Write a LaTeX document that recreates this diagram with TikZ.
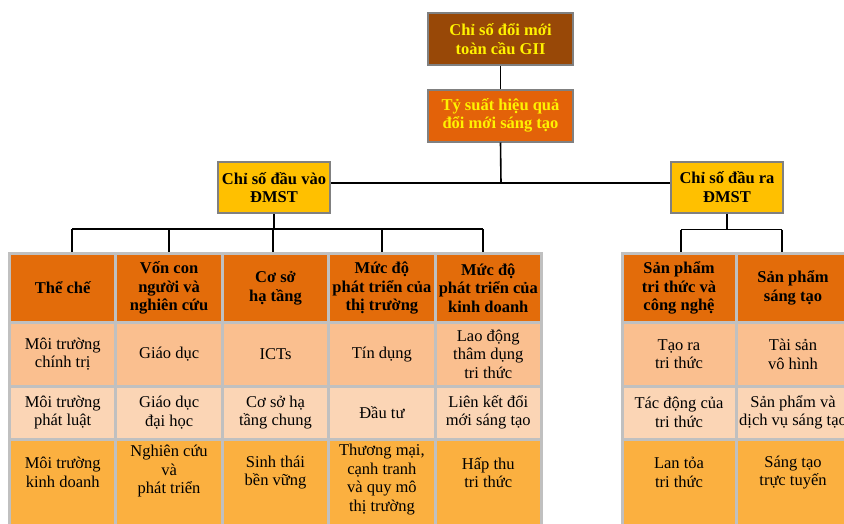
\documentclass[tikz,border=0pt]{standalone}
\usepackage{fontspec}
\setmainfont{Liberation Serif}
\usetikzlibrary{positioning,calc}
\definecolor{giibrown}{HTML}{984807}
\definecolor{effred}{HTML}{E36209}
\definecolor{pillaryellow}{HTML}{FFC000}
\definecolor{headorange}{HTML}{E36C0A}
\definecolor{rowpeach}{HTML}{FABF8F}
\definecolor{rowcream}{HTML}{FBD5B5}
\definecolor{rowamber}{HTML}{FBB040}
\definecolor{gridgray}{HTML}{C0C0C0}
\definecolor{framegray}{HTML}{808080}
\newcommand{\cellfont}{\fontsize{16.5pt}{18.5pt}\selectfont}
\tikzset{
  topbox/.style   ={rectangle, draw=framegray, line width=2pt, fill=giibrown,
                    minimum width=145pt, minimum height=52pt, inner sep=0pt,
                    align=center, text=yellow, font=\bfseries\cellfont},
  effbox/.style   ={topbox, fill=effred},
  pillar/.style   ={topbox, fill=pillaryellow, text=black,
                    minimum width=112pt, minimum height=51pt},
  cell/.style     ={rectangle, draw=gridgray, line width=3pt, inner xsep=0pt,
                    inner ysep=1pt, minimum width=106.4pt, align=center,
                    font=\cellfont, text=black},
  cellhead/.style ={cell, fill=headorange, minimum height=69pt,
                    font=\bfseries\cellfont},
  cellA/.style    ={cell, fill=rowpeach, minimum height=63.5pt},
  cellB/.style    ={cell, fill=rowcream, minimum height=53pt},
  cellC/.style    ={cell, fill=rowamber, minimum height=106pt},
  outcol/.style   ={minimum width=114pt},
  celltxt/.style  ={align=center, font=\cellfont, inner sep=0pt},
  conn/.style     ={line width=1.6pt, draw=black}
}

\begin{document}
\begin{tikzpicture}[x=1pt, y=-1pt]
  \clip (0,0) rectangle (844,523);

  % ---------------- Top ----------------
  \node[topbox] (gii) at (500.5,39)    {Chỉ số đổi mới\\toàn cầu GII};
  \node[effbox] (eff) at (500.5,115.5) {Tỷ suất hiệu quả\\đổi mới sáng tạo};
  \node[pillar] (in)  at (274,187.5)   {Chỉ số đầu vào\\ĐMST};
  \node[pillar] (out) at (727,187)     {Chỉ số đầu ra\\ĐMST};

  % ---------------- Input pillars ----------------
  \node[cellhead] (h1) at (62.7,288)  {Thể chế};
  \node[cellhead] (h2) at (169.1,288) {Vốn con\\người và\\nghiên cứu};
  \node[cellhead] (h3) at (275.5,288) {Cơ sở\\hạ tầng};
  \node[cellhead] (h4) at (381.9,288) {Mức độ\\phát triển của\\thị trường};
  \node[cellhead] (h5) at (488.3,288) {Mức độ\\phát triển của\\kinh doanh};

  \node[cellA] (a1) at (62.7,354.25)  {Môi trường\\chính trị};
  \node[cellA] (a2) at (169.1,354.25) {Giáo dục};
  \node[cellA] (a3) at (275.5,354.25) {ICTs};
  \node[cellA] (a4) at (381.9,354.25) {Tín dụng};
  \node[cellA] (a5) at (488.3,354.25) {Lao động\\thâm dụng\\tri thức};

  \node[cellB] (b1) at (62.7,412.5)  {Môi trường\\phát luật};
  \node[cellB] (b2) at (169.1,412.5) {Giáo dục\\đại học};
  \node[cellB] (b3) at (275.5,412.5) {Cơ sở hạ\\tầng chung};
  \node[cellB] (b4) at (381.9,412.5) {Đầu tư};
  \node[cellB] (b5) at (488.3,412.5) {Liên kết đổi\\mới sáng tạo};

  \node[cellC] (c1) at (62.7,492)  {};
  \node[cellC] (c2) at (169.1,492) {};
  \node[cellC] (c3) at (275.5,492) {};
  \node[cellC] (c4) at (381.9,492) {};
  \node[cellC] (c5) at (488.3,492) {};
  \node[celltxt] (t1) at ([yshift=-35pt]c1.north) {Môi trường\\kinh doanh};
  \node[celltxt] (t2) at ([yshift=-34pt]c2.north) {Nghiên cứu\\và\\phát triển};
  \node[celltxt] (t3) at ([yshift=-35pt]c3.north) {Sinh thái\\bền vững};
  \node[celltxt] (t4) at ([yshift=-42pt]c4.north) {Thương mại,\\cạnh tranh\\và quy mô\\thị trường};
  \node[celltxt] (t5) at ([yshift=-35pt]c5.north) {Hấp thu\\tri thức};

  % ---------------- Output pillars ----------------
  \node[cellhead, outcol] (r1) at (679,288) {Sản phẩm\\tri thức và\\công nghệ};
  \node[cellhead, outcol] (r2) at (793,288) {Sản phẩm\\sáng tạo};
  \node[cellA, outcol] (ra1) at (679,354.25) {Tạo ra\\tri thức};
  \node[cellA, outcol] (ra2) at (793,354.25) {Tài sản\\vô hình};
  \node[cellB, outcol] (rb1) at (679,412.5) {Tác động của\\tri thức};
  \node[cellB, outcol] (rb2) at (793,412.5) {Sản phẩm và\\dịch vụ sáng tạo};
  \node[cellC, outcol] (rc1) at (679,492) {};
  \node[cellC, outcol] (rc2) at (793,492) {};
  \node[celltxt] (rt1) at ([yshift=-35pt]rc1.north) {Lan tỏa\\tri thức};
  \node[celltxt] (rt2) at ([yshift=-35pt]rc2.north) {Sáng tạo\\trực tuyến};

  % ---------------- Top edges ----------------
  \coordinate (split) at (501,183);
  \draw[conn] (gii.south) -- (eff.north);
  \draw[conn] (eff.south) -- (split);
  \draw[conn] (in.east |- split) -- (out.west |- split);

  % ---------------- Input edges ----------------
  \coordinate (inbus) at ($(in.south)+(0,15)$);
  \coordinate (d1) at ([xshift=9.3pt]h1.north);
  \coordinate (d3) at ([xshift=-2.5pt]h3.north);
  \coordinate (d5) at ([xshift=-5.3pt]h5.north);
  \draw[conn] (in.south) -- (inbus);
  \draw[conn] (d1 |- inbus) -- (d5 |- inbus);
  \draw[conn] (d1 |- inbus) -- (d1);
  \draw[conn] (h2.north |- inbus) -- (h2.north);
  \draw[conn] (d3 |- inbus) -- (d3);
  \draw[conn] (h4.north |- inbus) -- (h4.north);
  \draw[conn] (d5 |- inbus) -- (d5);

  % ---------------- Output edges ----------------
  \coordinate (outbus) at ($(out.south)+(0,16)$);
  \coordinate (d6) at ([xshift=2pt]r1.north);
  \coordinate (d7) at ([xshift=-11pt]r2.north);
  \draw[conn] (out.south) -- (outbus);
  \draw[conn] (d6 |- outbus) -- (d7 |- outbus);
  \draw[conn] (d6 |- outbus) -- (d6);
  \draw[conn] (d7 |- outbus) -- (d7);
\end{tikzpicture}
\end{document}
